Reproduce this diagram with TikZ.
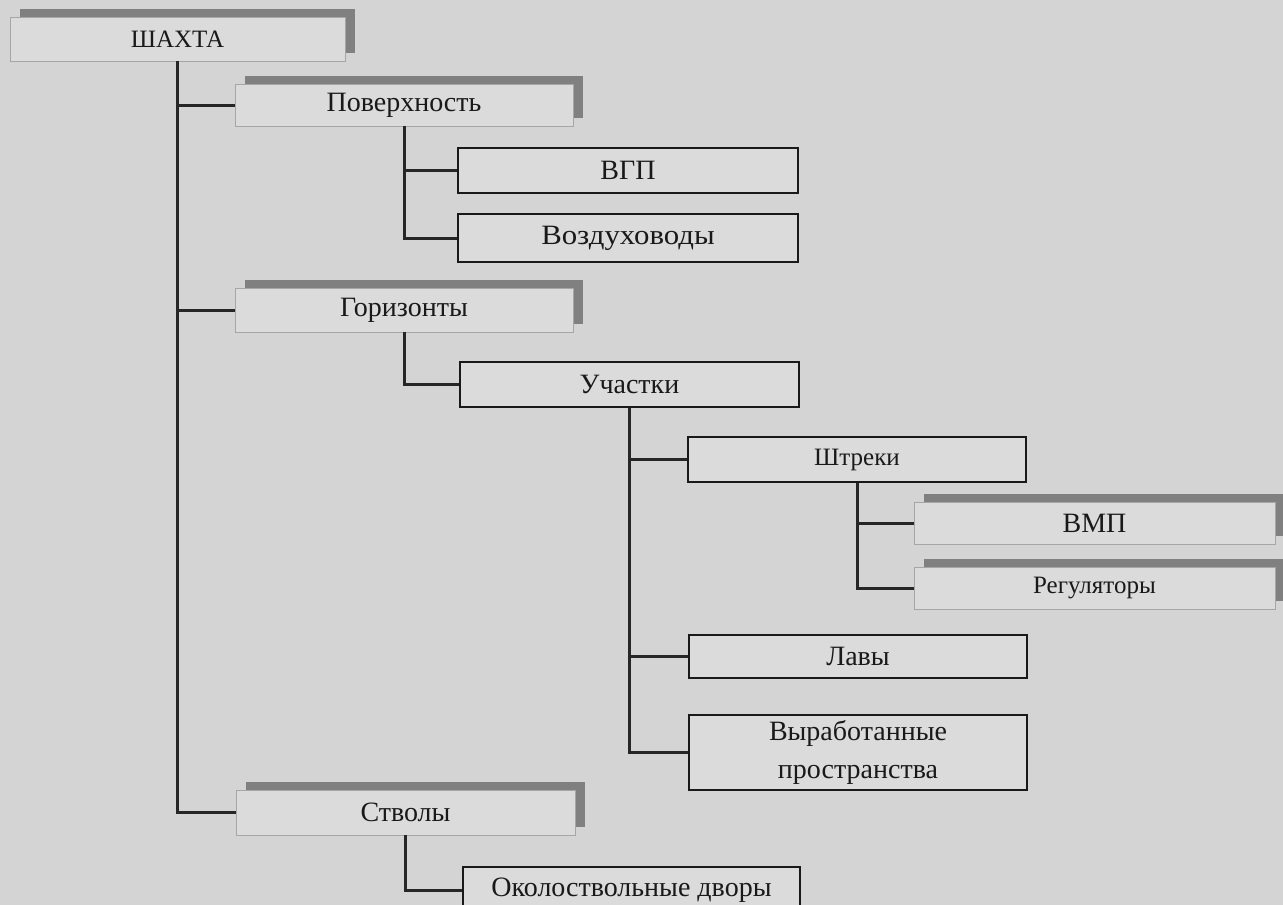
\documentclass[tikz,border=0pt]{standalone}
\usepackage{fontspec}
\usepackage{graphicx}
\setmainfont{Liberation Serif}
\usetikzlibrary{shadows}
\definecolor{pagebg}{RGB}{212,212,212}
\definecolor{boxbg}{RGB}{219,219,219}
\definecolor{shadowgray}{RGB}{128,128,128}
\tikzset{
  lbl/.style={font=\fontsize{28}{33}\selectfont, text=black!90, align=center, inner sep=0pt},
  smalllbl/.style={font=\fontsize{25}{29}\selectfont},
  solidbox/.style={lbl, draw=black!90, line width=1.8pt, fill=boxbg},
  shadebox/.style={lbl, draw=gray!70, line width=0.9pt, fill=boxbg,
    general shadow={fill=shadowgray, shadow xshift=10pt, shadow yshift=8pt}},
  conn/.style={draw=black!85, line width=3pt}
}
\begin{document}
\begin{tikzpicture}[x=1pt,y=-1pt]
\fill[pagebg] (0,0) rectangle (1283,905);
\useasboundingbox (0,0) rectangle (1283,905);

% nodes
\node[shadebox, smalllbl, minimum width=335pt, minimum height=44pt] (shaxta) at (177.5,39) {ШАХТА};
\node[shadebox, minimum width=338pt, minimum height=42pt] (pov) at (404,105) {Поверхность};
\node[solidbox, minimum width=340pt, minimum height=45pt] (vgp) at (628,170.5) {ВГП};
\node[solidbox, minimum width=340pt, minimum height=48pt] (vozd) at (628,238) {\scalebox{1.1}[1]{Воздуховоды}};
\node[shadebox, minimum width=338pt, minimum height=44pt] (hor) at (404,310) {Горизонты};
\node[solidbox, minimum width=339pt, minimum height=45pt] (uch) at (629.5,384.5) {Участки};
\node[solidbox, smalllbl, minimum width=338pt, minimum height=45pt] (shtr) at (857,459.5) {Штреки};
\node[shadebox, minimum width=361pt, minimum height=42pt] (vmp) at (1094.5,523) {ВМП};
\node[shadebox, smalllbl, minimum width=361pt, minimum height=42pt] (reg) at (1094.5,588) {Регуляторы};
\node[solidbox, minimum width=338pt, minimum height=43pt] (lavy) at (858,656.5) {Лавы};
\node[solidbox, minimum width=338pt, minimum height=75pt] (vyr) at (858,752.5) {Выработанные\\[5pt]пространства};
\node[shadebox, minimum width=339pt, minimum height=45pt] (stv) at (405.5,812.5) {Стволы};
\node[solidbox, minimum width=337pt, minimum height=46pt] (okol) at (631.5,890) {Околоствольные дворы};

% connectors
\draw[conn] (shaxta.south) |- (pov.west);
\draw[conn] (shaxta.south) |- (hor.west);
\draw[conn] (shaxta.south) |- (stv.west);
\draw[conn] (pov.south) |- (vgp.west);
\draw[conn] (pov.south) |- (vozd.west);
\draw[conn] (hor.south) |- (uch.west);
\draw[conn] (uch.south) |- (shtr.west);
\draw[conn] (uch.south) |- (lavy.west);
\draw[conn] (uch.south) |- (vyr.west);
\draw[conn] (shtr.south) |- (vmp.west);
\draw[conn] (shtr.south) |- (reg.west);
\draw[conn] (stv.south) |- (okol.west);
\end{tikzpicture}
\end{document}
